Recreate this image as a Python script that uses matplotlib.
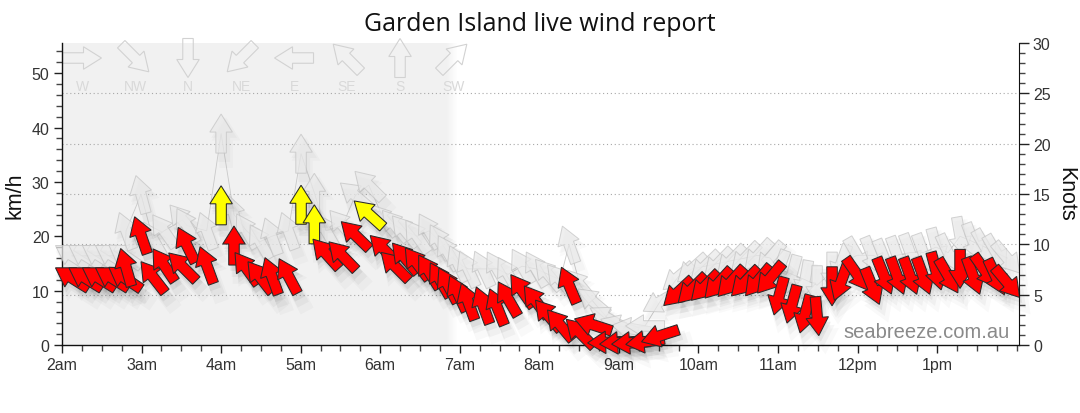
import numpy as np
import matplotlib
matplotlib.use("Agg")
import matplotlib.pyplot as plt
from matplotlib.patches import Polygon
from matplotlib.transforms import Affine2D, ScaledTranslation
from matplotlib.ticker import MultipleLocator

# ---------------- data ----------------
# time of reading (decimal hours), average wind (km/h), direction wind comes from (deg)
times = [2.126, 2.295, 2.465, 2.629, 2.792, 2.805, 2.993, 3.144, 3.282, 3.515, 3.568, 3.819,
         4.000, 4.162, 4.319, 4.489, 4.636, 4.845, 5.005, 5.172, 5.319, 5.526, 5.687, 5.856,
         6.048, 6.186, 6.312, 6.463, 6.614, 6.752, 6.853, 6.978, 7.104, 7.292, 7.469, 7.607,
         7.783, 7.959, 8.110, 8.261, 8.374, 8.512, 8.676, 8.852, 9.002, 9.153, 9.329, 9.518,
         9.744, 9.920, 10.083, 10.247, 10.410, 10.586, 10.750, 10.901, 11.014, 11.177, 11.341,
         11.492, 11.680, 11.793, 11.994, 12.183, 12.334, 12.497, 12.661, 12.824, 12.988,
         13.139, 13.289, 13.453, 13.604, 13.742, 13.880]
speed_kmh = [12.3, 12.3, 12.3, 12.3, 12.3, 14.3, 20.2, 12.5, 14.7, 14.4, 18.4, 14.7,
             25.7, 18.3, 14.1, 12.5, 12.7, 12.7, 25.8, 22.2, 16.8, 16.4, 20.2, 24.1,
             17.6, 14.5, 16.0, 15.0, 13.5, 12.0, 11.0, 9.5, 8.0, 7.3, 7.0, 8.5,
             10.0, 8.0, 5.5, 3.7, 11.0, 2.2, 3.7, 0.5, 0.4, 0.4, 0.6, 1.7,
             9.7, 10.3, 10.8, 11.3, 11.6, 11.6, 11.8, 12.3, 9.0, 7.5, 5.7,
             5.3, 10.8, 11.6, 13.0, 10.8, 12.7, 12.7, 12.7, 12.7, 13.6,
             12.7, 14.0, 12.7, 13.6, 12.5, 11.5]
direction_deg = [122, 122, 122, 122, 124, 164, 161, 142, 146, 135, 154, 160,
                 180, 180, 144, 142, 160, 152, 180, 180, 138, 136, 134, 132,
                 135, 135, 140, 143, 148, 150, 152, 155, 160, 160, 158, 150,
                 145, 143, 140, 140, 157, 135, 108, 88, 86, 86, 82, 72,
                 47, 45, 44, 42, 42, 44, 40, 40, 15, 15, 15,
                 355, 0, 20, 325, 338, 338, 340, 340, 340, 345,
                 330, 0, 340, 325, 335, 320]
gust_kmh = [16.4, 16.4, 16.4, 16.4, 16.4, 21.0, 27.7, 19.5, 21.0, 23.0, 22.0, 21.0,
            38.9, 24.0, 21.0, 19.0, 20.0, 21.0, 35.2, 28.0, 21.0, 22.0, 27.5, 29.4,
            23.0, 22.0, 21.0, 20.0, 21.0, 19.0, 17.0, 15.0, 14.0, 14.0, 14.0, 13.0,
            14.5, 14.0, 13.0, 12.0, 18.5, 11.0, 8.0, 5.0, 3.5, 3.0, 3.5, 8.0,
            12.5, 14.0, 14.5, 15.0, 15.5, 16.0, 16.5, 16.0, 14.0, 13.0, 12.0,
            11.0, 13.5, 15.0, 16.5, 16.5, 16.0, 16.5, 17.0, 17.0, 18.0,
            17.0, 20.0, 19.0, 18.0, 17.0, 16.0]
gust_dir_deg = [122, 122, 122, 122, 124, 160, 165, 150, 145, 140, 150, 160,
                180, 165, 150, 150, 160, 160, 180, 180, 150, 140, 130, 135,
                140, 140, 140, 145, 150, 150, 150, 155, 155, 155, 150, 150,
                150, 150, 140, 140, 160, 140, 130, 120, 110, 100, 90, 60,
                50, 48, 46, 44, 44, 44, 42, 40, 20, 15, 10,
                0, 0, 20, 330, 338, 338, 340, 340, 340, 345,
                335, 350, 340, 330, 330, 320]
highlight = [0] * 12 + [1] + [0] * 5 + [1, 1, 0, 0, 0, 1] + [0] * 51

hour_ticks = list(range(2, 14))
hour_labels = ["2am", "3am", "4am", "5am", "6am", "7am", "8am", "9am",
               "10am", "11am", "12pm", "1pm"]
compass_labels = ["W", "NW", "N", "NE", "E", "SE", "S", "SW"]
compass_from = [270, 315, 0, 45, 90, 135, 180, 225]
night_end = 6.90
KMH_PER_KNOT = 1.852

# ---------------- figure ----------------
W, H = 1080, 414
fig = plt.figure(figsize=(W / 100, H / 100), dpi=100)
ax = fig.add_axes([62 / W, (H - 346) / H, (1019 - 62) / W, (346 - 44) / H])
ax.set_autoscale_on(False)
x0, x1 = 2.0, 14.03
y0, y1 = 0.0, 30 * KMH_PER_KNOT
ax.set_xlim(x0, x1)
ax.set_ylim(y0, y1)

# night shading with soft edge
ax.axvspan(x0, night_end - 0.07, color="#f1f1f1", lw=0, zorder=0)
nfade = 14
for i in range(nfade):
    a = 1 - (i + 0.5) / nfade
    s = night_end - 0.07 + i * 0.14 / nfade
    ax.axvspan(s, s + 0.14 / nfade, color="#f1f1f1", alpha=a, lw=0, zorder=0)

for k in [5, 10, 15, 20, 25]:
    ax.axhline(k * KMH_PER_KNOT, color="#a8a8a8", lw=0.8, ls=(0, (1, 2.5)), zorder=1)

# arrow geometry in pixels
L, HL, HW, SWD = 39.0, 18.0, 22.5, 10.5
shape = np.array([[L / 2, 0], [L / 2 - HL, HW / 2], [L / 2 - HL, SWD / 2],
                  [-L / 2, SWD / 2], [-L / 2, -SWD / 2], [L / 2 - HL, -SWD / 2],
                  [L / 2 - HL, -HW / 2]])


def arrow(axis, x, y, frm, fc, ec, lw, z, alpha=1.0, dx=0.0, dy=0.0, scale=1.0):
    bearing = (frm + 180) % 360
    ang = 90 - bearing
    tr = Affine2D().scale(scale).rotate_deg(ang).translate(dx, dy) + \
        ScaledTranslation(x, y, axis.transData)
    p = Polygon(shape, closed=True, transform=tr, fc=fc, ec=ec, lw=lw,
                zorder=z, alpha=alpha, clip_on=False, joinstyle="miter")
    axis.add_patch(p)


# gust line
ax.plot(times, gust_kmh, color="#c9c9c9", lw=0.6, zorder=2)

# gust shadows + arrows
for t, g, d in zip(times, gust_kmh, gust_dir_deg):
    for (ox, oy, sc, al) in [(3, -6, 1.15, 0.022), (5, -9, 1.3, 0.018)]:
        arrow(ax, t, g, d, "#000000", "none", 0, 2.2, alpha=al, dx=ox, dy=oy, scale=sc)
for t, g, d in zip(times, gust_kmh, gust_dir_deg):
    arrow(ax, t, g, d, "#eaeaea", "#c2c2c2", 0.7, 3, alpha=0.72)

# main arrow shadows + arrows
for t, v, d in zip(times, speed_kmh, direction_deg):
    for (ox, oy, sc, al) in [(2, -5, 1.05, 0.05), (4, -8, 1.2, 0.035), (6, -11, 1.4, 0.025)]:
        arrow(ax, t, v, d, "#000000", "none", 0, 4, alpha=al, dx=ox, dy=oy, scale=sc)
for t, v, d, h in zip(times, speed_kmh, direction_deg, highlight):
    fc = "#ffff00" if h else "#ff0000"
    arrow(ax, t, v, d, fc, "#2a2a2a", 0.75, 5)

# compass legend
for i, (lab, frm) in enumerate(zip(compass_labels, compass_from)):
    cx = 2.0 + (20 + 53 * i) / 79.545
    arrow(ax, cx, 52.8, frm, "none", "#d2d2d2", 0.8, 1.5)
    ax.text(cx, 47.6, lab, ha="center", va="center", color="#d9d9d9",
            fontsize=10, family="Liberation Sans", zorder=1.5)

# axes styling
for sp in ["top", "right"]:
    ax.spines[sp].set_visible(False)
for sp in ["left", "bottom"]:
    ax.spines[sp].set_color("#111111")
    ax.spines[sp].set_linewidth(1.0)
ax.set_xticks(hour_ticks)
ax.set_xticklabels(hour_labels)
ax.xaxis.set_minor_locator(MultipleLocator(0.25))
ax.yaxis.set_major_locator(MultipleLocator(10))
ax.yaxis.set_minor_locator(MultipleLocator(2))
ax.tick_params(which="major", direction="out", length=6, width=1, color="#222222",
               labelsize=11.5, labelcolor="#333333", pad=3)
ax.tick_params(which="minor", direction="out", length=4, width=1, color="#444444")
for lab in ax.get_xticklabels() + ax.get_yticklabels():
    lab.set_family("Liberation Sans")

ax2 = ax.twinx()
ax2.set_ylim(0, 30)
ax2.set_autoscale_on(False)
for sp in ["top", "left", "bottom"]:
    ax2.spines[sp].set_visible(False)
ax2.spines["right"].set_color("#111111")
ax2.yaxis.set_major_locator(MultipleLocator(5))
ax2.yaxis.set_minor_locator(MultipleLocator(1))
ax2.tick_params(which="major", direction="out", length=7, width=1, color="#222222",
                labelsize=11.5, labelcolor="#333333", pad=3)
ax2.tick_params(which="minor", direction="out", length=4, width=1, color="#444444")
for lab in ax2.get_yticklabels():
    lab.set_family("Liberation Sans")

fig.text(15 / W, 1 - 196 / H, "km/h", rotation=90, ha="center", va="center",
         fontsize=15.5, family="Liberation Sans", color="#111111")
fig.text(1066 / W, 1 - 194 / H, "Knots", rotation=-90, ha="center", va="center",
         fontsize=15.5, family="Liberation Sans", color="#111111")
fig.text(0.5, 1 - 31 / H, "Garden Island live wind report", ha="center", va="baseline",
         fontsize=18, family="Open Sans", color="#111111")
fig.text(1010 / W, 1 - 338 / H, "seabreeze.com.au", ha="right", va="baseline",
         fontsize=14.5, family="Liberation Sans", color="#8a8a8a", zorder=10)

fig.savefig("out.png", dpi=100)
